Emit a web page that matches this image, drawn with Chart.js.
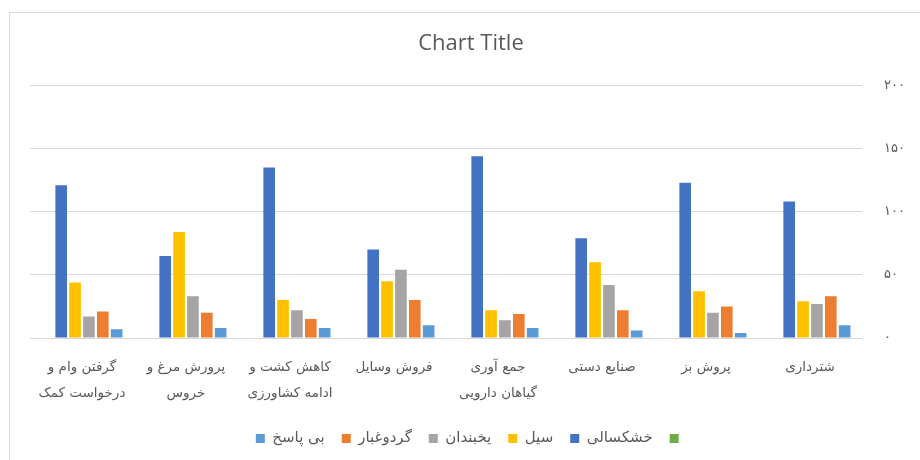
<!DOCTYPE html>
<html>
<head>
<meta charset="utf-8">
<script src="https://cdn.jsdelivr.net/npm/chart.js@4.4.1/dist/chart.umd.min.js"></script>
<style>
  html, body { margin: 0; padding: 0; background: #ffffff; overflow: hidden; width: 920px; height: 460px; }
  #frame { position: absolute; left: 9px; top: 12px; width: 960px; height: 480px; border: 1px solid #d9d9d9; box-sizing: border-box; }
  #wrap { position: absolute; left: 0; top: 0; width: 912px; height: 460px; }
</style>
</head>
<body>
<div id="frame"></div>
<div id="wrap"><canvas id="c" width="912" height="460"></canvas></div>
<script>
// Categories in reading order (right to left on the chart)
const categories = [
  ['شترداری'],
  ['پروش بز'],
  ['صنایع دستی'],
  ['جمع آوری', 'گیاهان دارویی'],
  ['فروش وسایل'],
  ['کاهش کشت و', 'ادامه کشاورزی'],
  ['پرورش مرغ و', 'خروس'],
  ['گرفتن وام و', 'درخواست کمک']
];
const seriesNames = ['', 'خشکسالی', 'سیل', 'یخبندان', 'گردوغبار', 'بی پاسخ'];
const unnamedSeries = [null, null, null, null, null, null, null, null];
const drought  = [108, 123, 79, 144, 70, 135, 65, 121];
const flood    = [29, 37, 60, 22, 45, 30, 84, 44];
const frost    = [27, 20, 42, 14, 54, 22, 33, 17];
const dust     = [33, 25, 22, 19, 30, 15, 20, 21];
const noAnswer = [10, 4, 6, 8, 10, 8, 8, 7];
const yTickValues = [0, 50, 100, 150, 200];
const yTickLabels = ['۰', '۵۰', '۱۰۰', '۱۵۰', '۲۰۰'];

const colors = ['#70AD47', '#4472C4', '#FFC000', '#A5A5A5', '#ED7D31', '#5B9BD5'];
const seriesData = [unnamedSeries, drought, flood, frost, dust, noAnswer];

const FA = "'DejaVu Sans', 'Noto Sans', sans-serif";

new Chart(document.getElementById('c'), {
  type: 'bar',
  data: {
    labels: categories,
    datasets: seriesData.map((d, i) => ({
      label: seriesNames[i],
      data: d,
      backgroundColor: colors[i],
      borderWidth: 0,
      categoryPercentage: 0.8,
      barPercentage: 0.84
    }))
  },
  options: {
    responsive: false,
    animation: false,
    layout: { padding: { left: 30, right: 0, top: 22, bottom: 4 } },
    plugins: {
      title: {
        display: true,
        text: 'Chart Title',
        color: '#595959',
        font: { family: "'Open Sans', sans-serif", size: 22, weight: 'normal' },
        padding: { top: 9, bottom: 28 }
      },
      legend: {
        position: 'bottom',
        reverse: true,
        labels: {
          color: '#595959',
          font: { family: FA, size: 15 },
          boxWidth: 9,
          boxHeight: 9,
          padding: 17
        }
      },
      tooltip: { enabled: false }
    },
    scales: {
      x: {
        reverse: true,
        grid: { display: false, drawTicks: false },
        border: { display: false },
        ticks: {
          color: '#595959',
          font: { family: FA, size: 13.5, lineHeight: 1.95 },
          padding: 16,
          maxRotation: 0,
          autoSkip: false
        },
        afterFit: (s) => { s.height = 76; }
      },
      y: {
        position: 'right',
        min: 0,
        max: 200,
        afterBuildTicks: (s) => { s.ticks = yTickValues.map(v => ({ value: v })); },
        grid: { color: '#d9d9d9', lineWidth: 1, drawTicks: false },
        border: { display: false },
        ticks: {
          color: '#595959',
          font: { family: FA, size: 13 },
          padding: 22,
          callback: (v) => { const k = yTickValues.indexOf(v); return k >= 0 ? yTickLabels[k] : ''; }
        },
        afterFit: (s) => { s.width = 50; }
      }
    }
  }
});
</script>
</body>
</html>
